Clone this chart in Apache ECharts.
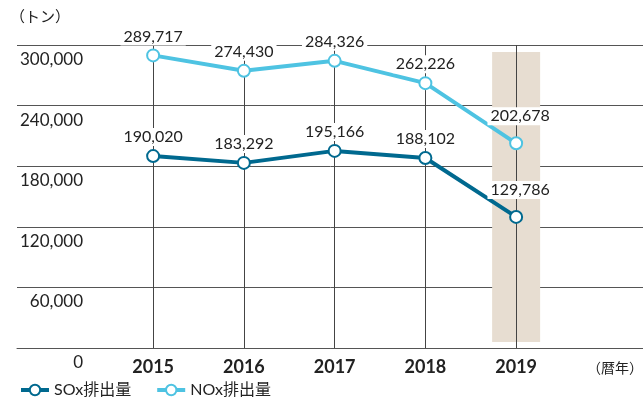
<!DOCTYPE html>
<html><head><meta charset="utf-8">
<script src="https://cdn.jsdelivr.net/npm/echarts@6/dist/echarts.min.js"></script>
<style>html,body{margin:0;padding:0;background:#fff}#c{width:643px;height:405px}</style>
</head><body><div id="c"></div>
<script>
const categories = ['', '2015', '2016', '2017', '2018', '2019', ''];
const soxValues = [null, 190020, 183292, 195166, 188102, 129786, null];
const noxValues = [null, 289717, 274430, 284326, 262226, 202678, null];
const yTicks = [0, 60000, 120000, 180000, 240000, 300000];
const highlightYear = '2019';
const bandBase = 6000, bandHeight = 287000;
const unitLabel = '（トン）';
const xUnitLabel = '（暦年）';
const seriesNames = ['SOx排出量', 'NOx排出量'];

const FONT = 'Lato, "Noto Sans CJK JP", sans-serif';
const fmt = v => v.toLocaleString('en-US');
const chart = echarts.init(document.getElementById('c'));
const hlIdx = categories.indexOf(highlightYear);
const bandLow = categories.map((c, i) => i === hlIdx ? bandBase : null);
const bandHigh = categories.map((c, i) => i === hlIdx ? bandHeight : null);
const mkData = (arr) => arr.map((v, i) => v == null ? null : (i === hlIdx ? {value: v, label: {offset: [4, -8]}} : v));
const labelStyle = {
  show: true, position: 'top', distance: 3, formatter: p => fmt(p.value),
  fontFamily: FONT, fontSize: 16, color: '#222', backgroundColor: '#fff', padding: [1, 3]
};
chart.setOption({
  animation: false,
  grid: {left: 17, width: 635.25, top: 45, bottom: 57, containLabel: false, outerBoundsMode: 'none'},
  xAxis: {
    type: 'category', data: categories, boundaryGap: true,
    axisLine: {lineStyle: {color: '#555', width: 1}}, axisTick: {show: false},
    axisLabel: {fontFamily: FONT, fontSize: 18, fontWeight: 'bold', color: '#222', margin: 10, interval: 0},
    splitLine: {show: false}
  },
  yAxis: {
    type: 'value', min: yTicks[0], max: yTicks[yTicks.length - 1], interval: yTicks[1] - yTicks[0],
    axisLine: {show: false}, axisTick: {show: false},
    axisLabel: {fontFamily: FONT, fontSize: 17, color: '#222', align: 'right', verticalAlign: 'top',
      margin: -66, padding: [6, 0, 0, 0], formatter: v => fmt(v)},
    splitLine: {lineStyle: {color: '#555', width: 1}}
  },
  legend: {
    left: 14, bottom: 2, itemWidth: 28, itemHeight: 13, itemGap: 24,
    textStyle: {fontFamily: FONT, fontSize: 16, color: '#222'},
    lineStyle: {width: 4}, itemStyle: {borderWidth: 3},
    data: seriesNames
  },
  graphic: [
    {type: 'text', left: 10, top: 10, style: {text: unitLabel, font: '15px ' + FONT, fill: '#222'}},
    {type: 'text', right: 0, top: 361, style: {text: xUnitLabel, font: '14px ' + FONT, fill: '#222'}}
  ],
  series: [
    {type: 'bar', stack: 'band', data: bandLow, barWidth: 48, itemStyle: {color: 'transparent'}, silent: true, z: 0},
    {type: 'bar', stack: 'band', data: bandHigh, barWidth: 48, itemStyle: {color: '#e7ddd1'}, silent: true, z: 0,
      markLine: {silent: true, symbol: 'none', label: {show: false},
        lineStyle: {color: '#444', width: 1, type: 'solid'},
        data: categories.filter(c => c !== '').map(c => ({xAxis: c}))}},
    {name: seriesNames[1], type: 'line', data: mkData(noxValues),
      lineStyle: {color: '#4ec3e2', width: 4}, itemStyle: {color: '#4ec3e2', borderWidth: 3.5},
      symbol: 'emptyCircle', symbolSize: 12, label: labelStyle, z: 5},
    {name: seriesNames[0], type: 'line', data: mkData(soxValues),
      lineStyle: {color: '#00698f', width: 4}, itemStyle: {color: '#00698f', borderWidth: 3.5},
      symbol: 'emptyCircle', symbolSize: 12, label: labelStyle, z: 5}
  ]
});
</script></body></html>
